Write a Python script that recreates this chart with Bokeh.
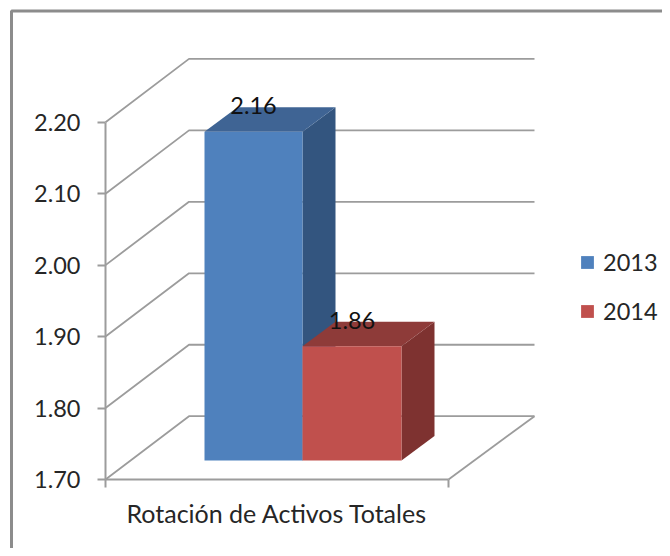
from bokeh.plotting import figure
from bokeh.models import (LinearAxis, FixedTicker, NumeralTickFormatter, Range1d, Legend, LegendItem,
                          BoxAnnotation, ColumnDataSource)
from bokeh.core.properties import value
from bokeh.embed import file_html
from bokeh.resources import INLINE

category = "Rotación de Activos Totales"
series = ["2013", "2014"]
values = [2.16, 1.86]
y_ticks = [1.70, 1.80, 1.90, 2.00, 2.10, 2.20]
front_colors = ["#4F81BD", "#C0504D"]
top_colors = ["#3F6494", "#8E3B39"]
side_colors = ["#33557F", "#7E3230"]

FONT = "Lato"
W, H = 662, 548
AXIS_X, AXIS_PY = 105, 479   # where the value axis stands and where 1.70 lies
PX = 714.6                   # pixels per value unit
FLOOR_W = 343                # front floor edge length
WALL_DX, WALL_DY = 83.5, 63.3 / PX
WALL_RIGHT = 534
BAR_DX, BAR_DY = 33, 24.5 / PX
LIFT = 19 / PX               # bar base above the front floor edge
bar_left = [204, 302]
bar_w = [98, 99]
GRID = "#9C9C9C"
TEXT = "#262626"

p = figure(width=W, height=H, output_backend="svg", toolbar_location=None,
           x_range=Range1d(0, W),
           y_range=Range1d(y_ticks[0] - (H - AXIS_PY) / PX, y_ticks[0] + AXIS_PY / PX),
           x_axis_location=None, y_axis_location=None,
           min_border_left=0, min_border_bottom=0, min_border_top=0, min_border_right=0)
p.grid.visible = False
p.outline_line_color = None
p.background_fill_color = "white"
p.border_fill_color = "white"

# outer chart frame, running off the page at the right and bottom
p.add_layout(BoxAnnotation(left=11, right=W + 20, top=10.5, bottom=H + 20,
                           left_units="canvas", right_units="canvas", top_units="canvas", bottom_units="canvas",
                           fill_alpha=0, line_color="#8C8C8C", line_alpha=1, line_width=3, level="underlay"))

# 3D walls and floor
x0 = AXIS_X
xs, ys = [], []
for t in y_ticks:
    xs.append([x0, x0 + WALL_DX, WALL_RIGHT])
    ys.append([t, t + WALL_DY, t + WALL_DY])
xs.append([WALL_RIGHT, x0 + FLOOR_W])
ys.append([y_ticks[0] + WALL_DY, y_ticks[0]])
p.multi_line(xs, ys, line_color=GRID, line_width=1.8)

# bars
base = y_ticks[0] + LIFT
renderers = []
for i, v in enumerate(values):
    l, w = bar_left[i], bar_w[i]
    r = l + w
    top = v + LIFT
    p.patch([r, r + BAR_DX, r + BAR_DX, r], [base, base + BAR_DY, top + BAR_DY, top], fill_color=side_colors[i], line_color=None)
    p.patch([l, l + BAR_DX, r + BAR_DX, r], [top, top + BAR_DY, top + BAR_DY, top], fill_color=top_colors[i], line_color=None)
    renderers.append(p.vbar(x=[l + w / 2], width=w, bottom=base, top=[top], fill_color=front_colors[i], line_color=None))

# data labels
src = ColumnDataSource(dict(x=[bar_left[i] + bar_w[i] / 2 for i in range(2)],
                            y=[v + LIFT for v in values],
                            t=[f"{v:.2f}" for v in values]))
p.text("x", "y", text="t", source=src, text_font=value(FONT), text_font_size="23.5px", text_color="#111111",
       text_align="center", text_baseline="middle", y_offset=-26)

# axes
ya = LinearAxis(ticker=FixedTicker(ticks=y_ticks), formatter=NumeralTickFormatter(format="0.00"),
                fixed_location=x0, bounds=(y_ticks[0], y_ticks[-1]), axis_line_color=GRID, axis_line_width=2,
                major_tick_line_color=GRID, major_tick_line_width=2, major_tick_in=0, major_tick_out=8,
                minor_tick_line_color=None, major_label_text_font=FONT, major_label_text_font_size="23.5px",
                major_label_text_color=TEXT, major_label_standoff=17)
p.add_layout(ya, "left")
mid = x0 + FLOOR_W / 2
xa = LinearAxis(ticker=FixedTicker(ticks=[mid], minor_ticks=[x0, x0 + FLOOR_W]), major_label_overrides={mid: category},
                fixed_location=y_ticks[0], bounds=(x0, x0 + FLOOR_W), axis_line_color=GRID, axis_line_width=2,
                major_tick_line_color=None, minor_tick_line_color=GRID, minor_tick_line_width=2,
                minor_tick_in=0, minor_tick_out=8, major_label_text_font=FONT,
                major_label_text_font_size="25px", major_label_text_color=TEXT, major_label_standoff=10)
p.add_layout(xa, "below")

legend = Legend(items=[LegendItem(label=s, renderers=[renderers[i]]) for i, s in enumerate(series)],
                location=(579, 223), padding=0, margin=0, spacing=21, border_line_color=None,
                background_fill_alpha=0, glyph_width=16, glyph_height=16, label_height=20, label_standoff=8,
                label_text_font=FONT, label_text_font_size="23.5px", label_text_color=TEXT)
p.add_layout(legend)

open("out.html", "w").write(file_html(p, INLINE))
